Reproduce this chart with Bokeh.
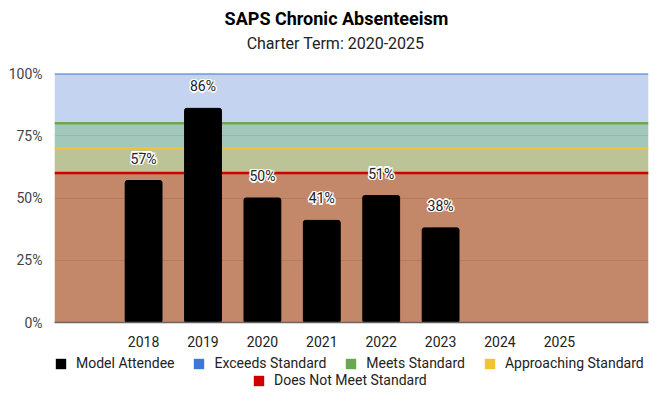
from bokeh.plotting import figure
from bokeh.layouts import column
from bokeh.models import (FactorRange, Range1d, BoxAnnotation, Span, Legend, LegendItem,
                          FixedTicker, PrintfTickFormatter, Label, ColumnDataSource)
from bokeh.core.properties import value
from bokeh.embed import file_html
from bokeh.resources import INLINE

# ---- data ----
title_text = "SAPS Chronic Absenteeism"
subtitle_text = "Charter Term:  2020-2025"
years = ["2018", "2019", "2020", "2021", "2022", "2023", "2024", "2025"]
attendee_years = ["2018", "2019", "2020", "2021", "2022", "2023"]
attendee_pct = [57, 86, 50, 41, 51, 38]
band_names = ["Does Not Meet Standard", "Approaching Standard", "Meets Standard", "Exceeds Standard"]
band_bottoms = [0, 60, 70, 80]
band_tops = [60, 70, 80, 100]
y_ticks = [0, 25, 50, 75, 100]

# ---- styles ----
band_fills = ["#c3876a", "#bcc497", "#a3c7bb", "#c3d3f0"]
band_lines = ["#cc0000", "#f1c232", "#6aa84f", "#3c78d8"]
band_line_widths = [2.5, 2.5, 2.5, 2]
FONT = "Roboto"
W = 651
BL, BR = 54, 3  # shared left/right borders for all three stacked figures

# ---- title strip ----
TH = 62
tp = figure(width=W, height=TH, x_range=Range1d(BL, W - BR), y_range=Range1d(0, TH),
            output_backend="svg", toolbar_location=None, x_axis_location=None,
            y_axis_location=None, min_border=0, min_border_left=BL, min_border_right=BR,
            min_border_top=0, min_border_bottom=0)
tp.outline_line_color = None
tp.grid.visible = False
tp.add_layout(Label(x=336, y=TH - 18, text=title_text, text_font=FONT, text_font_size="18px",
                    text_font_style="bold", text_color="#000000", text_align="center",
                    text_baseline="middle"))
tp.add_layout(Label(x=337, y=TH - 43, text=subtitle_text, text_font=FONT, text_font_size="16px",
                    text_color="#222222", text_align="center", text_baseline="middle"))

# ---- main chart ----
factors = [" "] + years + ["  "]
p = figure(x_range=FactorRange(factors=factors), y_range=Range1d(0, 100),
           width=W, height=290, output_backend="svg", toolbar_location=None,
           min_border_left=BL, min_border_right=BR, min_border_top=11, min_border_bottom=0)
p.outline_line_color = None
p.background_fill_color = "white"
p.border_fill_color = "white"

for b, t, c in zip(band_bottoms, band_tops, band_fills):
    p.add_layout(BoxAnnotation(bottom=b, top=t, fill_color=c, fill_alpha=1.0,
                               line_color=None, level="image"))
for t, c, w in zip(band_tops, band_lines, band_line_widths):
    p.add_layout(Span(location=t, dimension="width", line_color=c, line_width=w, level="underlay"))

src = ColumnDataSource(dict(x=attendee_years, top=attendee_pct,
                            label=[f"{v}%" for v in attendee_pct]))
bars = p.vbar(x="x", top="top", width=0.62, source=src, fill_color="black",
              line_color="black", border_radius=2)

for dx, dy in [(-1.5, 0), (1.5, 0), (0, -1.5), (0, 1.5), (-1.1, -1.1), (1.1, 1.1), (-1.1, 1.1), (1.1, -1.1)]:
    p.text(x="x", y="top", text="label", source=src, text_font=value(FONT),
           text_font_size="14px", text_color="white", text_align="center",
           text_baseline="middle", x_offset=dx, y_offset=-22 + dy)
p.text(x="x", y="top", text="label", source=src, text_font=value(FONT),
       text_font_size="14px", text_color="#222222", text_align="center",
       text_baseline="middle", x_offset=0, y_offset=-22)

p.xaxis.major_tick_line_color = None
p.xaxis.minor_tick_line_color = None
p.xaxis.axis_line_color = "#666666"
p.xaxis.axis_line_width = 1.5
p.xaxis.major_label_text_font = FONT
p.xaxis.major_label_text_font_size = "14px"
p.xaxis.major_label_text_color = "#222222"
p.xaxis.major_label_standoff = 5

p.yaxis.ticker = FixedTicker(ticks=y_ticks)
p.yaxis.formatter = PrintfTickFormatter(format="%d%%")
p.yaxis.axis_line_color = None
p.yaxis.major_tick_line_color = None
p.yaxis.minor_tick_line_color = None
p.yaxis.major_label_text_font = FONT
p.yaxis.major_label_text_font_size = "14px"
p.yaxis.major_label_text_color = "#444444"
p.yaxis.major_label_standoff = 6

p.xgrid.grid_line_color = None
p.ygrid.ticker = FixedTicker(ticks=y_ticks)
p.ygrid.grid_line_color = "black"
p.ygrid.grid_line_alpha = 0.08

# ---- legend strip ----
LH = 36
lp = figure(width=W, height=LH, x_range=Range1d(0, 1), y_range=Range1d(0, 1),
            output_backend="svg", toolbar_location=None, x_axis_location=None,
            y_axis_location=None, min_border=0, min_border_left=BL, min_border_right=BR,
            min_border_top=0, min_border_bottom=0)
lp.outline_line_color = None
lp.grid.visible = False

legend_names = ["Model Attendee"] + band_names
legend_colors = ["black"] + band_lines
proxies = {}
for n, c in zip(legend_names, legend_colors):
    proxies[n] = lp.vbar(x=[0.5], top=[0], bottom=[0], width=0.1, fill_color=c, line_color=None)

def make_legend(names, loc):
    return Legend(items=[LegendItem(label=n, renderers=[proxies[n]]) for n in names],
                  orientation="horizontal", location=loc,
                  label_text_font=FONT, label_text_font_size="14px", label_text_color="#222222",
                  glyph_width=13, glyph_height=13, label_height=14, label_standoff=9, spacing=18,
                  padding=0, margin=0, border_line_color=None, background_fill_alpha=0)

lp.add_layout(make_legend(["Model Attendee", "Exceeds Standard", "Meets Standard",
                           "Approaching Standard"], (0, 17)))
lp.add_layout(make_legend(["Does Not Meet Standard"], (198, 0)))

open("out.html", "w").write(file_html(column(tp, p, lp), INLINE))
